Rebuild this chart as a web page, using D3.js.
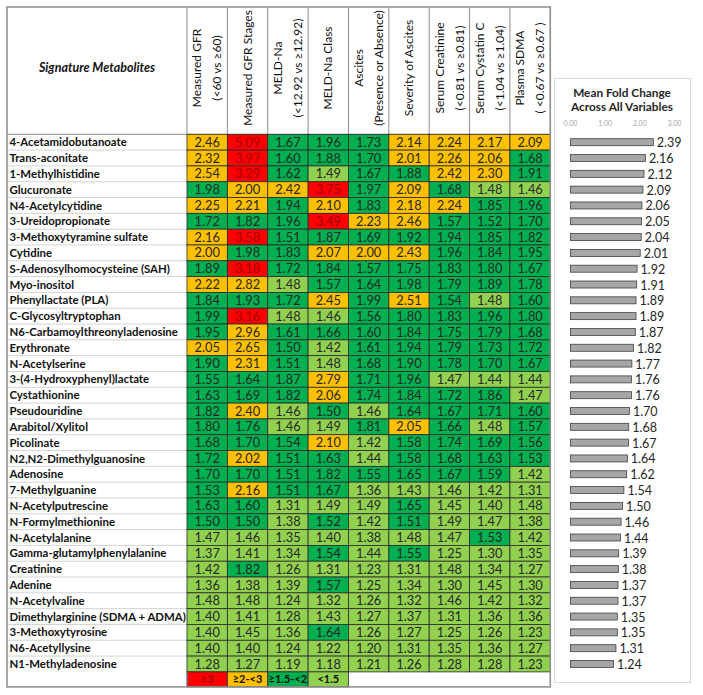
<!DOCTYPE html>
<html><head><meta charset="utf-8">
<script src="https://cdn.jsdelivr.net/npm/d3@7"></script>
<style>body{margin:0;background:#fff}svg{display:block}text{font-family:Lato,"Liberation Sans",sans-serif}</style>
</head><body>
<svg id="c" width="703" height="695"></svg>
<script>
const metabolites = ["4-Acetamidobutanoate","Trans-aconitate","1-Methylhistidine","Glucuronate","N4-Acetylcytidine","3-Ureidopropionate","3-Methoxytyramine sulfate","Cytidine","S-Adenosylhomocysteine (SAH)","Myo-inositol","Phenyllactate (PLA)","C-Glycosyltryptophan","N6-Carbamoylthreonyladenosine","Erythronate","N-Acetylserine","3-(4-Hydroxyphenyl)lactate","Cystathionine","Pseudouridine","Arabitol/Xylitol","Picolinate","N2,N2-Dimethylguanosine","Adenosine","7-Methylguanine","N-Acetylputrescine","N-Formylmethionine","N-Acetylalanine","Gamma-glutamylphenylalanine","Creatinine","Adenine","N-Acetylvaline","Dimethylarginine (SDMA + ADMA)","3-Methoxytyrosine","N6-Acetyllysine","N1-Methyladenosine"];
const variables = [["Measured GFR","(<60 vs ≥60)"],["Measured GFR Stages"],["MELD-Na","(<12.92 vs ≥12.92)"],["MELD-Na Class"],["Ascites","(Presence or Absence)"],["Severity of Ascites"],["Serum Creatinine","(<0.81 vs ≥0.81)"],["Serum Cystatin C","(<1.04 vs ≥1.04)"],["Plasma SDMA","( <0.67 vs ≥0.67 )"]];
const foldChanges = [
[2.46,5.09,1.67,1.96,1.73,2.14,2.24,2.17,2.09],
[2.32,3.97,1.60,1.88,1.70,2.01,2.26,2.06,1.68],
[2.54,3.29,1.62,1.49,1.67,1.88,2.42,2.30,1.91],
[1.98,2.00,2.42,3.75,1.97,2.09,1.68,1.48,1.46],
[2.25,2.21,1.94,2.10,1.83,2.18,2.24,1.85,1.96],
[1.72,1.82,1.96,3.49,2.23,2.46,1.57,1.52,1.70],
[2.16,3.58,1.51,1.87,1.69,1.92,1.94,1.85,1.82],
[2.00,1.98,1.83,2.07,2.00,2.43,1.96,1.84,1.95],
[1.89,3.18,1.72,1.84,1.57,1.75,1.83,1.80,1.67],
[2.22,2.82,1.48,1.57,1.64,1.98,1.79,1.89,1.78],
[1.84,1.93,1.72,2.45,1.99,2.51,1.54,1.48,1.60],
[1.99,3.16,1.48,1.46,1.56,1.80,1.83,1.96,1.80],
[1.95,2.96,1.61,1.66,1.60,1.84,1.75,1.79,1.68],
[2.05,2.65,1.50,1.42,1.61,1.94,1.79,1.73,1.72],
[1.90,2.31,1.51,1.48,1.68,1.90,1.78,1.70,1.67],
[1.55,1.64,1.87,2.79,1.71,1.96,1.47,1.44,1.44],
[1.63,1.69,1.82,2.06,1.74,1.84,1.72,1.86,1.47],
[1.82,2.40,1.46,1.50,1.46,1.64,1.67,1.71,1.60],
[1.80,1.76,1.46,1.49,1.81,2.05,1.66,1.48,1.57],
[1.68,1.70,1.54,2.10,1.42,1.58,1.74,1.69,1.56],
[1.72,2.02,1.51,1.63,1.44,1.58,1.68,1.63,1.53],
[1.70,1.70,1.51,1.82,1.55,1.65,1.67,1.59,1.42],
[1.53,2.16,1.51,1.67,1.36,1.43,1.46,1.42,1.31],
[1.63,1.60,1.31,1.49,1.49,1.65,1.45,1.40,1.48],
[1.50,1.50,1.38,1.52,1.42,1.51,1.49,1.47,1.38],
[1.47,1.46,1.35,1.40,1.38,1.48,1.47,1.53,1.42],
[1.37,1.41,1.34,1.54,1.44,1.55,1.25,1.30,1.35],
[1.42,1.82,1.26,1.31,1.23,1.31,1.48,1.34,1.27],
[1.36,1.38,1.39,1.57,1.25,1.34,1.30,1.45,1.30],
[1.48,1.48,1.24,1.32,1.26,1.32,1.46,1.42,1.32],
[1.40,1.41,1.28,1.43,1.27,1.37,1.31,1.36,1.36],
[1.40,1.45,1.36,1.64,1.26,1.27,1.25,1.26,1.23],
[1.40,1.40,1.24,1.22,1.20,1.31,1.35,1.36,1.27],
[1.28,1.27,1.19,1.18,1.21,1.26,1.28,1.28,1.23]];
const meanFoldChange = [2.39,2.16,2.12,2.09,2.06,2.05,2.04,2.01,1.92,1.91,1.89,1.89,1.87,1.82,1.77,1.76,1.76,1.70,1.68,1.67,1.64,1.62,1.54,1.50,1.46,1.44,1.39,1.38,1.37,1.37,1.35,1.35,1.31,1.24];
const legendLabels = ["≥3","≥2-<3","≥1.5-<2","<1.5"];
const thresholds = [1.5,2,3];
const barTicks = [0,1,2,3];

const svg = d3.select("#c");
const color = d3.scaleThreshold().domain(thresholds).range(["#92D050","#00B050","#FFC000","#FF0000"]);
const textColor = v => v >= 3 ? "#9C0006" : "#262626";

const L = 7, T = 7, labelRight = 187, R = 550.3, headBottom = 134.3, rowsBottom = 671.9, legendBottom = 686.9;
const x = d3.scaleBand().domain(d3.range(variables.length)).range([labelRight, R]);
const y = d3.scaleBand().domain(metabolites).range([headBottom, rowsBottom]);

// label column row separators
svg.append("g").selectAll("line").data(metabolites.slice(1)).join("line")
  .attr("x1", L).attr("x2", labelRight).attr("y1", d => y(d)).attr("y2", d => y(d))
  .attr("stroke", "#d4d4d4").attr("stroke-width", 1);

// header column lines
svg.append("g").selectAll("line").data(d3.range(variables.length + 1)).join("line")
  .attr("x1", i => i < variables.length ? x(i) : R).attr("x2", i => i < variables.length ? x(i) : R)
  .attr("y1", T).attr("y2", headBottom).attr("stroke", "#8c8c8c").attr("stroke-width", 1);
svg.append("line").attr("x1", L).attr("x2", R).attr("y1", headBottom).attr("y2", headBottom)
  .attr("stroke", "#8c8c8c").attr("stroke-width", 1);

// header texts
svg.append("text").attr("x", (L + labelRight) / 2).attr("y", 72).attr("text-anchor", "middle")
  .attr("font-size", 12.5).attr("font-weight", "bold").attr("font-style", "italic").attr("fill", "#111")
  .text("Signature Metabolites");
const hdr = svg.append("g").selectAll("g").data(variables).join("g")
  .attr("transform", (d, i) => `translate(${x(i) + x.bandwidth() / 2},68) rotate(-90)`);
hdr.each(function(d) {
  const g = d3.select(this);
  d.forEach((line, k) => {
    const off = d.length === 1 ? 0 : (k === 0 ? -10 : 10);
    g.append("text").attr("x", 0).attr("y", off).attr("dy", "0.35em").attr("text-anchor", "middle")
      .attr("font-size", 12).attr("fill", "#111").text(line);
  });
});

// cells
const cells = [];
foldChanges.forEach((row, r) => row.forEach((v, c) => cells.push({ r, c, v })));
svg.append("g").selectAll("rect").data(cells).join("rect")
  .attr("x", d => x(d.c)).attr("y", d => y(metabolites[d.r]))
  .attr("width", x.bandwidth()).attr("height", y.bandwidth())
  .attr("fill", d => color(d.v)).attr("stroke", "#2a2a2a").attr("stroke-width", 0.8);
svg.append("g").selectAll("text").data(cells).join("text")
  .attr("x", d => x(d.c) + x.bandwidth() / 2).attr("y", d => y(metabolites[d.r]) + y.bandwidth() / 2)
  .attr("dy", "0.36em").attr("text-anchor", "middle").attr("font-size", 12.8)
  .attr("fill", d => textColor(d.v)).text(d => d.v.toFixed(2));

// row labels
svg.append("g").selectAll("text").data(metabolites).join("text")
  .attr("x", L + 2.5).attr("y", d => y(d) + y.bandwidth() / 2).attr("dy", "0.36em")
  .attr("font-size", 11.4).attr("font-weight", "bold").attr("fill", "#111").text(d => d);

// legend row
const legendColors = ["#FF0000","#FFC000","#00B050","#92D050"];
svg.append("g").selectAll("rect").data(legendLabels).join("rect")
  .attr("x", (d, i) => x(i)).attr("y", rowsBottom).attr("width", x.bandwidth()).attr("height", legendBottom - rowsBottom)
  .attr("fill", (d, i) => legendColors[i]).attr("stroke", "#2a2a2a").attr("stroke-width", 0.8);
svg.append("g").selectAll("text").data(legendLabels).join("text")
  .attr("x", (d, i) => x(i) + x.bandwidth() / 2).attr("y", (rowsBottom + legendBottom) / 2).attr("dy", "0.36em")
  .attr("text-anchor", "middle").attr("font-size", 11).attr("font-weight", "bold")
  .attr("fill", (d, i) => i === 0 ? "#9C0006" : "#111").text(d => d);
svg.append("line").attr("x1", labelRight).attr("x2", labelRight).attr("y1", rowsBottom).attr("y2", legendBottom).attr("stroke", "#8c8c8c");

// outer border
svg.append("rect").attr("x", L).attr("y", T).attr("width", R - L).attr("height", legendBottom - T)
  .attr("fill", "none").attr("stroke", "#8c8c8c").attr("stroke-width", 1.5);

// right panel
svg.append("rect").attr("x", 554.5).attr("y", 78.5).attr("width", 136).attr("height", 604)
  .attr("fill", "#fff").attr("stroke", "#d9d9d9").attr("stroke-width", 1);
svg.append("text").attr("x", 622).attr("y", 93).attr("dy", "0.35em").attr("text-anchor", "middle")
  .attr("font-size", 11.8).attr("font-weight", "bold").attr("fill", "#262626").text("Mean Fold Change");
svg.append("text").attr("x", 622).attr("y", 107).attr("dy", "0.35em").attr("text-anchor", "middle")
  .attr("font-size", 11.8).attr("font-weight", "bold").attr("fill", "#262626").text("Across All Variables");
const bx = d3.scaleLinear().domain([0, 3]).range([570.5, 674.5]);
svg.append("g").selectAll("text").data(barTicks).join("text")
  .attr("x", d => bx(d)).attr("y", 123.5).attr("dy", "0.35em").attr("text-anchor", "middle")
  .attr("font-size", 7).attr("fill", "#a6a6a6").text(d => d.toFixed(2));
const bh = 7;
svg.append("g").selectAll("rect").data(meanFoldChange).join("rect")
  .attr("x", bx(0)).attr("y", (d, i) => y(metabolites[i]) + y.bandwidth() / 2 - bh / 2)
  .attr("width", d => bx(d) - bx(0)).attr("height", bh)
  .attr("fill", "#a6a6a6").attr("stroke", "#404040").attr("stroke-width", 0.8);
svg.append("g").selectAll("text").data(meanFoldChange).join("text")
  .attr("x", d => bx(d) + 3.5).attr("y", (d, i) => y(metabolites[i]) + y.bandwidth() / 2 + 0.5).attr("dy", "0.36em")
  .attr("font-size", 12.5).attr("fill", "#262626").text(d => d.toFixed(2));
</script>
</body></html>
